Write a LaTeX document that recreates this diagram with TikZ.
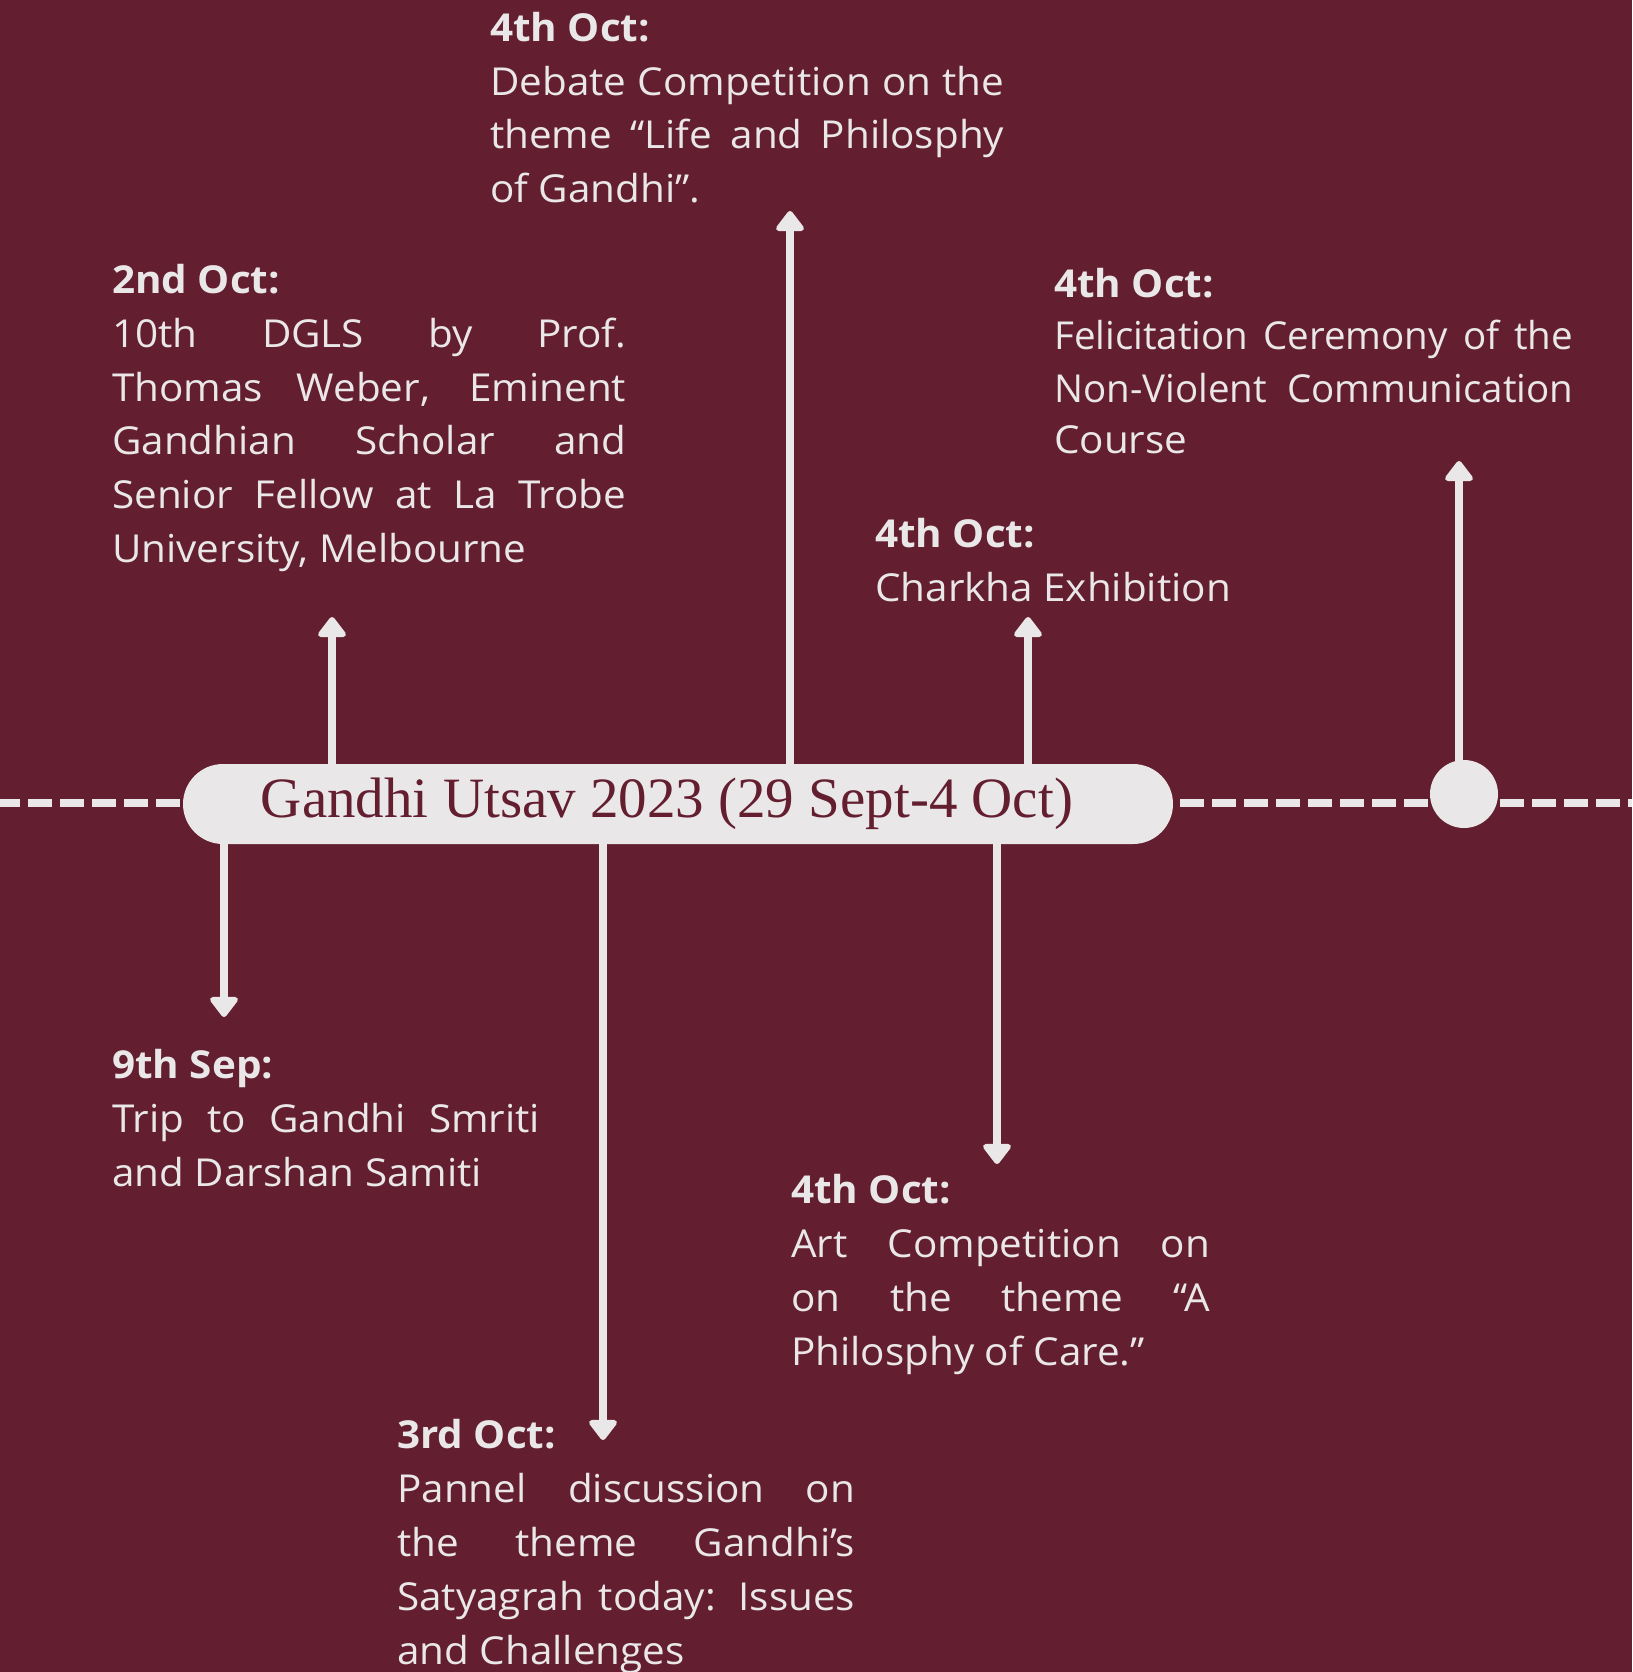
\documentclass[tikz,border=0pt]{standalone}
\usepackage{fontspec}
\setmainfont[FakeStretch=1.05]{Open Sans}
\newfontfamily\narrowfont{Open Sans}
\newfontfamily\titlefont{Liberation Serif}
\usetikzlibrary{arrows.meta}
\definecolor{bg}{HTML}{631E2F}
\definecolor{lite}{HTML}{EAE7E8}
\newcommand\jline[2]{\makebox[#1][s]{#2}}
\begin{document}
\begin{tikzpicture}[x=1pt,y=-1pt,
  txt/.style={anchor=base west, inner sep=0pt, text=lite, font=\fontsize{38.5}{54}\selectfont},
  narrowtxt/.style={txt, font=\narrowfont\fontsize{38.5}{54}\selectfont},
  hdr/.style={txt, font=\fontsize{38.5}{54}\selectfont\bfseries},
  conn/.style={draw=lite, line width=8pt, -{Triangle[width=32pt,length=22pt,round]}},
  dash line/.style={draw=lite, line width=8pt, dash pattern=on 24pt off 8pt, dash phase=4pt},
  pillbox/.style={rectangle, rounded corners=40pt, minimum width=990pt, minimum height=80pt, inner sep=0pt, fill=lite},
  dotnode/.style={circle, minimum size=68pt, inner sep=0pt, fill=lite}
  ]
\fill[bg] (0,0) rectangle (1632,1672);
\useasboundingbox (0,0) rectangle (1632,1672);

% timeline
\coordinate (L) at (0,803);
\coordinate (R) at (1632,803);
\draw[dash line] (L) -- (R);

% tips
\coordinate (t1) at (332,617);
\coordinate (t2) at (790,211);
\coordinate (t3) at (1028,617);
\coordinate (t4) at (1459,461);
\coordinate (b1) at (224,1017);
\coordinate (b2) at (603,1440);
\coordinate (b3) at (997,1164);

\node[pillbox] (pill) at (678,804) {};
\node[anchor=base, inner sep=0pt, text=bg, font=\titlefont\fontsize{57}{60}\selectfont] (title) at (667,817) {Gandhi Utsav 2023 (29 Sept-4 Oct)};

\coordinate (dotc) at (1464,794);
\draw[conn] (t4 |- dotc) -- (t4);
\node[dotnode] (dot) at (dotc) {};

\draw[conn] (t1 |- pill.north) -- (t1);
\draw[conn] (t2 |- pill.north) -- (t2);
\draw[conn] (t3 |- pill.north) -- (t3);
\draw[conn] (b1 |- pill.south) -- (b1);
\draw[conn] (b2 |- pill.south) -- (b2);
\draw[conn] (b3 |- pill.south) -- (b3);

% Debate block
\node[hdr] (d0) at (490,42) {4th Oct:};
\node[txt] (d1) at (490,95.5) {\jline{514pt}{Debate Competition on the}};
\node[txt] (d2) at (490,149) {\jline{514pt}{theme “Life and Philosphy}};
\node[txt] (d3) at (490,202.5) {of Gandhi”.};

% 2nd Oct block
\node[hdr] (a0) at (112,293) {2nd Oct:};
\node[txt] (a1) at (112,347) {\jline{514pt}{10th DGLS by Prof.}};
\node[txt] (a2) at (112,401) {\jline{514pt}{Thomas Weber, Eminent}};
\node[txt] (a3) at (112,454) {\jline{514pt}{Gandhian Scholar and}};
\node[txt] (a4) at (112,508) {\jline{514pt}{Senior Fellow at La Trobe}};
\node[txt] (a5) at (112,562) {University, Melbourne};

% Felicitation block
\node[hdr] (f0) at (1054,297) {4th Oct:};
\node[narrowtxt] (f1) at (1054,349) {\jline{519pt}{Felicitation Ceremony of the}};
\node[narrowtxt] (f2) at (1054,402) {\jline{519pt}{Non-Violent Communication}};
\node[txt] (f3) at (1054,453) {Course};

% Charkha block
\node[hdr] (c0) at (875,547) {4th Oct:};
\node[txt] (c1) at (875,601) {Charkha Exhibition};

% 9th Sep block
\node[hdr] (s0) at (112,1078) {9th Sep:};
\node[txt] (s1) at (112,1132) {\jline{428pt}{Trip to Gandhi Smriti}};
\node[txt] (s2) at (112,1186) {and Darshan Samiti};

% Art block
\node[hdr] (r0) at (791,1203) {4th Oct:};
\node[txt] (r1) at (791,1257) {\jline{419pt}{Art Competition on}};
\node[txt] (r2) at (791,1311) {\jline{419pt}{on the theme “A}};
\node[txt] (r3) at (791,1365) {Philosphy of Care.”};

% 3rd Oct block
\node[hdr] (p0) at (397,1448) {3rd Oct:};
\node[txt] (p1) at (397,1502) {\jline{458pt}{Pannel discussion on}};
\node[txt] (p2) at (397,1556) {\jline{458pt}{the theme Gandhi’s}};
\node[txt] (p3) at (397,1610) {\jline{458pt}{Satyagrah today: Issues}};
\node[txt] (p4) at (397,1664) {and Challenges};
\end{tikzpicture}
\end{document}
